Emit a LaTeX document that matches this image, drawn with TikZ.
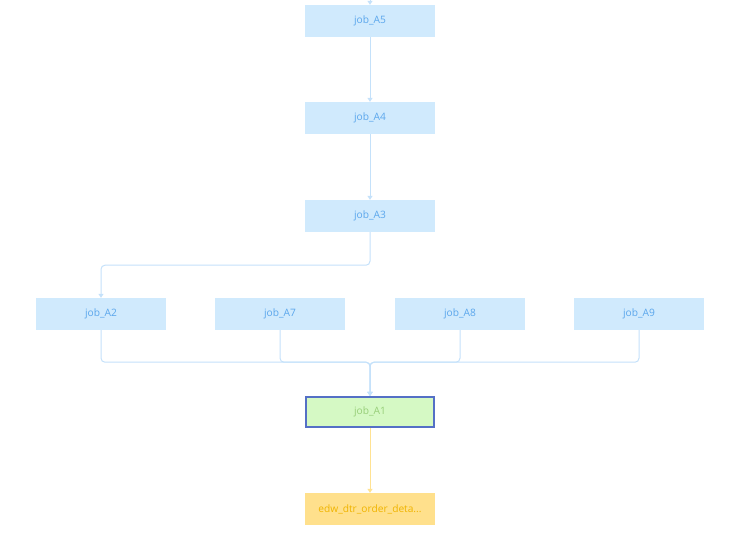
\documentclass[tikz,border=0pt]{standalone}
\usepackage{fontspec}
\setmainfont{Open Sans}
\usetikzlibrary{arrows.meta}
\definecolor{jobfill}{HTML}{D0EAFD}
\definecolor{jobtext}{HTML}{5AA6EC}
\definecolor{jobline}{HTML}{C4E1FA}
\definecolor{curfill}{HTML}{D5F9C4}
\definecolor{curdraw}{HTML}{5470C6}
\definecolor{curtext}{HTML}{97CE78}
\definecolor{tabfill}{HTML}{FFE08C}
\definecolor{tabtext}{HTML}{F0B400}
\definecolor{tabline}{HTML}{FFE292}
\tikzset{
  job/.style={fill=jobfill,text=jobtext,minimum width=130pt,minimum height=32pt,inner sep=0pt,font=\fontsize{10.2}{12}\selectfont},
  cur/.style={job,fill=curfill,draw=curdraw,line width=1.6pt,text=curtext,minimum width=128.5pt,minimum height=30.5pt},
  tab/.style={job,fill=tabfill,text=tabtext},
  link/.style={draw=jobline,line width=1pt,rounded corners=4pt,-{Triangle[width=5pt,length=4pt]}},
  tablink/.style={link,draw=tabline},
}
\begin{document}
\begin{tikzpicture}[x=1pt,y=-1pt]
  \useasboundingbox (0,0) rectangle (746,547);
  \coordinate (top) at (370,0);
  \node[job] (a5) at (370,21) {job\_A5};
  \node[job] (a4) at (370,118) {job\_A4};
  \node[job] (a3) at (370,216) {job\_A3};
  \node[job] (a2) at (101,314) {job\_A2};
  \node[job] (a7) at (280,314) {job\_A7};
  \node[job] (a8) at (460,314) {job\_A8};
  \node[job] (a9) at (639,314) {job\_A9};
  \node[cur] (a1) at (370,412) {job\_A1};
  \node[tab] (edw) at (370,509) {edw\_dtr\_order\_deta...};
  % edges
  \draw[link] (top) -- (a5);
  \draw[link] (a5) -- (a4);
  \draw[link] (a4) -- (a3);
  \draw[link] (a3.south) -- ++(0,33) -| (a2.north);
  \draw[link] (a2.south) -- ++(0,32) -| (a1.north);
  \draw[link] (a7.south) -- ++(0,32) -| (a1.north);
  \draw[link] (a8.south) -- ++(0,32) -| (a1.north);
  \draw[link] (a9.south) -- ++(0,32) -| (a1.north);
  \draw[tablink] (a1) -- (edw);
\end{tikzpicture}
\end{document}
